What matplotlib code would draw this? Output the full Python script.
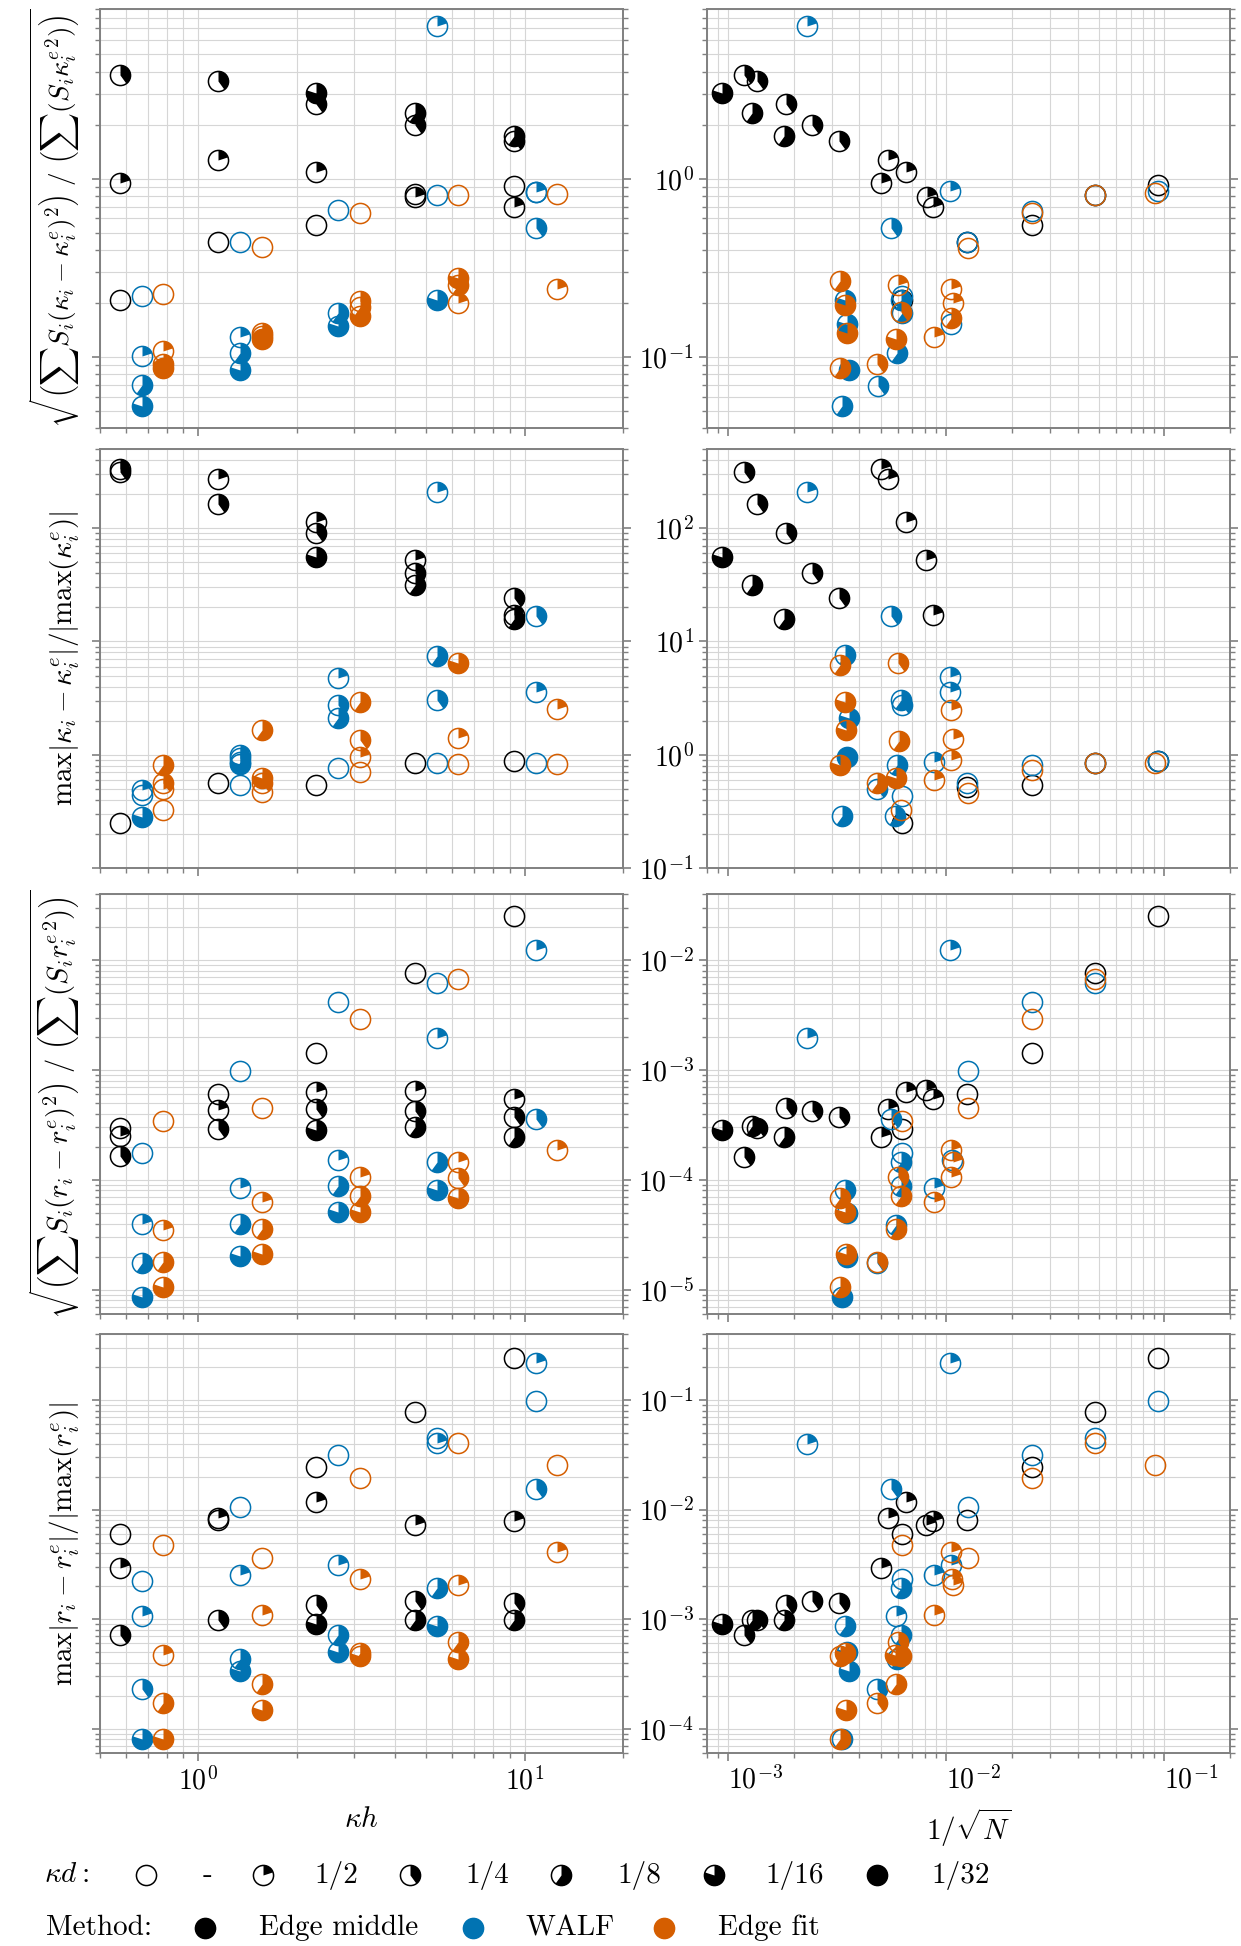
"""
Error of curvature (kappa) and radius (r) against kappa*h and 1/sqrt(N),
for three methods and several boundary refinements kappa*d.
"""
import numpy as np
import matplotlib
matplotlib.use("Agg")
import matplotlib.pyplot as plt
from matplotlib.path import Path
from matplotlib.ticker import LogLocator, NullFormatter

plt.rcParams.update({
    "font.family": "cmr10",
    "mathtext.fontset": "cm",
    "axes.formatter.use_mathtext": True,
    "axes.unicode_minus": False,
})

W, H, DPI = 1241, 1946, 100

COLORS = {"em": "#000000", "walf": "#0173b2", "fit": "#d55e00"}
METHOD_LABELS = {"em": "Edge middle", "walf": "WALF", "fit": "Edge fit"}
KD_LABELS = ["-", "1/2", "1/4", "1/8", "1/16", "1/32"]   # fill = k/5

# kappa*h of the five meshes (left column), method shift for readability
KH = [0.575, 1.15, 2.3, 4.6, 9.26]
KH_SHIFT = {"em": 1.0, "walf": 1.167, "fit": 1.36}

# ---- row 1: rms error of kappa -------------------------------------------
# left: (mesh index, value, kd index)
L1_EM = [(0, 3.85, 2), (0, 0.95, 1), (0, 0.21, 0),
         (1, 3.53, 2), (1, 1.28, 1), (1, 0.44, 0),
         (2, 3.03, 4), (2, 2.64, 2), (2, 1.10, 1), (2, 0.555, 0),
         (3, 2.34, 3), (3, 2.02, 2), (3, 0.79, 1), (3, 0.82, 0),
         (4, 1.75, 3), (4, 1.64, 2), (4, 0.70, 1), (4, 0.91, 0)]
L1_WALF = [(0, 0.22, 0), (0, 0.101, 1), (0, 0.070, 3), (0, 0.053, 4),
           (1, 0.44, 0), (1, 0.129, 1), (1, 0.106, 3), (1, 0.085, 4),
           (2, 0.667, 0), (2, 0.177, 3), (2, 0.149, 4),
           (3, 0.81, 0), (3, 0.21, 4), (3, 7.2, 1),
           (4, 0.85, 0), (4, 0.85, 1), (4, 0.53, 2)]
L1_FIT = [(0, 0.225, 0), (0, 0.108, 1), (0, 0.091, 4), (0, 0.087, 5),
          (1, 0.416, 0), (1, 0.137, 3), (1, 0.131, 4), (1, 0.126, 5),
          (2, 0.644, 0), (2, 0.206, 2), (2, 0.19, 3), (2, 0.17, 4),
          (3, 0.817, 0), (3, 0.279, 4), (3, 0.255, 3), (3, 0.20, 1),
          (4, 0.82, 0), (4, 0.24, 1)]
# right: (1/sqrt(N), value, kd index)
R1_EM = [(9.4e-4, 3.03, 4), (1.18e-3, 3.85, 2), (1.36e-3, 3.53, 2),
         (1.28e-3, 2.34, 3), (1.85e-3, 2.64, 2), (1.80e-3, 1.75, 3),
         (2.43e-3, 2.02, 2), (3.23e-3, 1.64, 2), (5.43e-3, 1.28, 1),
         (5.01e-3, 0.95, 1), (6.55e-3, 1.09, 1), (8.17e-3, 0.79, 1),
         (8.67e-3, 0.70, 1), (6.27e-3, 0.21, 0), (0.01245, 0.44, 0),
         (0.0247, 0.555, 0), (0.0483, 0.817, 0), (0.0933, 0.93, 0)]
R1_WALF = [(2.3e-3, 7.2, 1), (3.32e-3, 0.053, 3), (3.57e-3, 0.085, 5),
           (3.5e-3, 0.153, 4), (3.43e-3, 0.21, 4), (4.85e-3, 0.069, 2),
           (5.58e-3, 0.53, 2), (5.94e-3, 0.106, 3), (6.2e-3, 0.21, 3),
           (6.27e-3, 0.22, 0), (6.3e-3, 0.177, 3), (0.0104, 0.853, 1),
           (0.0105, 0.153, 1), (0.01245, 0.44, 0), (0.0247, 0.66, 0),
           (0.0483, 0.817, 0), (0.0933, 0.853, 0)]
R1_FIT = [(3.27e-3, 0.269, 3), (3.43e-3, 0.197, 4), (3.5e-3, 0.137, 4),
          (3.27e-3, 0.087, 3), (4.81e-3, 0.092, 2), (6.0e-3, 0.255, 1),
          (6.2e-3, 0.179, 2), (5.9e-3, 0.127, 4), (0.0105, 0.24, 1),
          (0.0107, 0.20, 1), (0.0105, 0.166, 3), (8.8e-3, 0.13, 1),
          (0.0126, 0.41, 0), (0.0246, 0.645, 0), (0.0483, 0.817, 0),
          (0.0907, 0.835, 0)]

# ---- row 2: max error of kappa -------------------------------------------
L2_EM = [(0, 336, 1), (0, 314, 2), (0, 0.248, 0),
         (1, 274, 1), (1, 163, 2), (1, 0.56, 0),
         (2, 114, 1), (2, 90, 2), (2, 55.8, 4), (2, 0.54, 0),
         (3, 52, 1), (3, 39.8, 2), (3, 31.4, 3), (3, 0.85, 0),
         (4, 24.4, 2), (4, 17.1, 1), (4, 15.7, 3), (4, 0.885, 0)]
L2_WALF = [(0, 0.49, 1), (0, 0.44, 0), (0, 0.284, 4),
           (1, 1.0, 1), (1, 0.93, 2), (1, 0.87, 3), (1, 0.82, 4), (1, 0.54, 0),
           (2, 4.8, 1), (2, 2.74, 2), (2, 2.09, 3), (2, 0.76, 0),
           (3, 209, 1), (3, 7.4, 3), (3, 3.04, 2), (3, 0.84, 0),
           (4, 16.7, 2), (4, 3.6, 1), (4, 0.84, 0)]
L2_FIT = [(0, 0.81, 3), (0, 0.56, 2), (0, 0.50, 1), (0, 0.325, 0),
          (1, 1.65, 3), (1, 0.62, 4), (1, 0.56, 2), (1, 0.47, 0),
          (2, 2.94, 3), (2, 1.35, 2), (2, 0.96, 1), (2, 0.71, 0),
          (3, 6.4, 4), (3, 1.41, 1), (3, 0.83, 0),
          (4, 2.51, 1), (4, 0.83, 0)]
R2_EM = [(9.4e-4, 55.8, 4), (1.18e-3, 314, 2), (1.36e-3, 163, 2),
         (1.28e-3, 31.4, 3), (1.85e-3, 90, 2), (1.80e-3, 15.7, 3),
         (2.43e-3, 39.8, 2), (3.23e-3, 24.4, 2), (5.01e-3, 336, 1),
         (5.43e-3, 274, 1), (6.55e-3, 114, 1), (8.1e-3, 52, 1),
         (8.67e-3, 17.1, 1), (6.27e-3, 0.248, 0), (0.01245, 0.52, 0),
         (0.0247, 0.54, 0), (0.0483, 0.85, 0), (0.0933, 0.885, 0)]
R2_WALF = [(2.3e-3, 209, 1), (5.58e-3, 16.8, 2), (3.43e-3, 7.6, 3),
           (3.57e-3, 2.09, 4), (3.5e-3, 0.96, 5), (3.32e-3, 0.288, 3),
           (6.2e-3, 3.04, 3), (6.27e-3, 2.74, 2), (5.96e-3, 0.81, 3),
           (4.8e-3, 0.50, 2), (6.3e-3, 0.43, 0), (5.8e-3, 0.29, 3),
           (0.0104, 4.9, 1), (0.0104, 3.6, 1), (8.8e-3, 0.87, 1),
           (0.01245, 0.56, 0), (0.0246, 0.81, 0), (0.0483, 0.85, 0),
           (0.0933, 0.885, 0)]
R2_FIT = [(3.27e-3, 6.2, 3), (3.43e-3, 2.94, 4), (3.46e-3, 1.65, 4),
          (3.27e-3, 0.81, 4), (6.0e-3, 6.5, 2), (6.1e-3, 1.32, 3),
          (4.8e-3, 0.56, 3), (5.9e-3, 0.62, 4), (6.2e-3, 0.325, 0),
          (0.0105, 2.48, 1), (0.0107, 1.39, 1), (0.0105, 0.90, 1),
          (8.8e-3, 0.60, 1), (0.0126, 0.46, 0), (0.0246, 0.73, 0),
          (0.0483, 0.84, 0), (0.0907, 0.84, 0)]

# ---- row 3: rms error of r -----------------------------------------------
L3_EM = [(0, 2.94e-4, 0), (0, 2.48e-4, 1), (0, 1.63e-4, 2),
         (1, 6.0e-4, 0), (1, 4.32e-4, 1), (1, 2.88e-4, 2),
         (2, 1.42e-3, 0), (2, 6.3e-4, 1), (2, 4.4e-4, 2), (2, 2.85e-4, 4),
         (3, 7.7e-3, 0), (3, 6.5e-4, 1), (3, 4.27e-4, 2), (3, 3.05e-4, 3),
         (4, 0.0254, 0), (4, 5.46e-4, 1), (4, 3.72e-4, 2), (4, 2.44e-4, 3)]
L3_WALF = [(0, 1.77e-4, 0), (0, 3.96e-5, 1), (0, 1.74e-5, 3), (0, 8.6e-6, 4),
           (1, 9.7e-4, 0), (1, 8.4e-5, 1), (1, 3.96e-5, 3), (1, 2.02e-5, 4),
           (2, 4.2e-3, 0), (2, 1.52e-4, 1), (2, 8.8e-5, 3), (2, 5.13e-5, 4),
           (3, 6.17e-3, 0), (3, 1.97e-3, 1), (3, 1.44e-4, 3), (3, 8.1e-5, 4),
           (4, 0.0123, 1), (4, 3.56e-4, 2)]
L3_FIT = [(0, 3.46e-4, 0), (0, 3.49e-5, 1), (0, 1.8e-5, 3), (0, 1.05e-5, 4),
          (1, 4.55e-4, 0), (1, 6.3e-5, 1), (1, 3.6e-5, 3), (1, 2.1e-5, 4),
          (2, 2.94e-3, 0), (2, 1.05e-4, 1), (2, 7.1e-5, 3), (2, 5.1e-5, 4),
          (3, 6.76e-3, 0), (3, 1.44e-4, 1), (3, 1.03e-4, 2), (3, 6.8e-5, 4),
          (4, 1.85e-4, 1)]
R3_EM = [(9.4e-4, 2.85e-4, 4), (1.18e-3, 1.6e-4, 2), (1.28e-3, 3.1e-4, 3),
         (1.36e-3, 2.95e-4, 2), (1.85e-3, 4.5e-4, 2), (1.80e-3, 2.44e-4, 3),
         (2.43e-3, 4.27e-4, 2), (3.23e-3, 3.71e-4, 2), (5.01e-3, 2.44e-4, 1),
         (5.43e-3, 4.4e-4, 1), (6.55e-3, 6.3e-4, 1), (8.1e-3, 6.6e-4, 1),
         (8.67e-3, 5.46e-4, 1), (6.27e-3, 2.9e-4, 0), (0.01245, 6.0e-4, 0),
         (0.0247, 1.42e-3, 0), (0.0483, 7.7e-3, 0), (0.0933, 0.0254, 0)]
R3_WALF = [(2.3e-3, 1.97e-3, 1), (0.0104, 0.0123, 1), (0.0126, 9.7e-4, 0),
           (0.0246, 4.2e-3, 0), (0.0483, 6.2e-3, 0), (5.58e-3, 3.56e-4, 2),
           (6.27e-3, 1.77e-4, 0), (6.2e-3, 1.44e-4, 3), (6.2e-3, 8.8e-5, 3),
           (5.9e-3, 3.9e-5, 3), (3.43e-3, 8.1e-5, 3), (3.5e-3, 5.0e-5, 4),
           (3.5e-3, 2.0e-5, 4), (3.32e-3, 8.6e-6, 4), (4.8e-3, 1.74e-5, 2),
           (8.8e-3, 8.4e-5, 1), (0.0106, 1.52e-4, 1)]
R3_FIT = [(3.27e-3, 6.8e-5, 3), (3.43e-3, 5.1e-5, 4), (3.46e-3, 2.1e-5, 4),
          (3.27e-3, 1.06e-5, 3), (4.8e-3, 1.78e-5, 2), (5.9e-3, 3.6e-5, 3),
          (6.0e-3, 1.05e-4, 2), (6.2e-3, 7.1e-5, 3), (6.27e-3, 3.46e-4, 0),
          (8.8e-3, 6.3e-5, 1), (0.0105, 1.85e-4, 1), (0.0107, 1.44e-4, 1),
          (0.0105, 1.05e-4, 1), (0.0126, 4.55e-4, 0), (0.0246, 2.94e-3, 0),
          (0.0483, 6.76e-3, 0)]

# ---- row 4: max error of r -----------------------------------------------
L4_EM = [(0, 6.0e-3, 0), (0, 2.94e-3, 1), (0, 7.2e-4, 2),
         (1, 8.4e-3, 1), (1, 8.1e-3, 0), (1, 9.9e-4, 2),
         (2, 0.0243, 0), (2, 0.0117, 1), (2, 1.34e-3, 2), (2, 9.1e-4, 4),
         (3, 0.0778, 0), (3, 7.3e-3, 1), (3, 1.46e-3, 2), (3, 9.9e-4, 3),
         (4, 0.241, 0), (4, 7.8e-3, 1), (4, 1.41e-3, 2), (4, 9.9e-4, 3)]
L4_WALF = [(0, 2.22e-3, 0), (0, 1.06e-3, 1), (0, 2.29e-4, 2), (0, 8.1e-5, 4),
           (1, 0.0105, 0), (1, 2.52e-3, 1), (1, 4.29e-4, 3), (1, 3.36e-4, 4),
           (2, 0.0313, 0), (2, 3.15e-3, 1), (2, 7.2e-4, 3), (2, 5.04e-4, 4),
           (3, 0.045, 0), (3, 0.0406, 1), (3, 1.93e-3, 3), (3, 8.6e-4, 4),
           (4, 0.217, 1), (4, 0.0986, 0), (4, 0.0155, 2)]
L4_FIT = [(0, 4.73e-3, 0), (0, 4.67e-4, 1), (0, 1.73e-4, 3), (0, 8.1e-5, 4),
          (1, 3.62e-3, 0), (1, 1.1e-3, 1), (1, 2.54e-4, 3), (1, 1.48e-4, 4),
          (2, 0.0194, 0), (2, 2.3e-3, 1), (2, 4.93e-4, 3), (2, 4.6e-4, 4),
          (3, 0.0406, 0), (3, 2.04e-3, 1), (3, 6.17e-4, 3), (3, 4.29e-4, 4),
          (4, 0.0257, 0), (4, 4.11e-3, 1)]
R4_EM = [(9.4e-4, 9.1e-4, 4), (1.18e-3, 7.2e-4, 2), (1.28e-3, 9.9e-4, 3),
         (1.36e-3, 9.9e-4, 2), (1.85e-3, 1.34e-3, 2), (1.80e-3, 9.9e-4, 3),
         (2.43e-3, 1.46e-3, 2), (3.23e-3, 1.41e-3, 2), (5.01e-3, 2.94e-3, 1),
         (5.43e-3, 8.4e-3, 1), (6.55e-3, 0.0117, 1), (8.1e-3, 7.3e-3, 1),
         (8.67e-3, 7.8e-3, 1), (6.27e-3, 6.0e-3, 0), (0.01245, 8.1e-3, 0),
         (0.0247, 0.0243, 0), (0.0483, 0.0778, 0), (0.0933, 0.241, 0)]
R4_WALF = [(2.3e-3, 0.0397, 1), (5.58e-3, 0.0155, 2), (3.43e-3, 8.7e-4, 3),
           (3.5e-3, 5.0e-4, 4), (3.57e-3, 3.36e-4, 4), (3.32e-3, 8.1e-5, 3),
           (4.8e-3, 2.29e-4, 2), (5.9e-3, 1.06e-3, 1), (6.2e-3, 7.2e-4, 3),
           (5.96e-3, 4.3e-4, 3), (6.27e-3, 2.3e-3, 0), (6.2e-3, 1.93e-3, 3),
           (8.8e-3, 2.52e-3, 1), (0.0105, 3.15e-3, 1), (0.0126, 0.0105, 0),
           (0.0246, 0.0313, 0), (0.0483, 0.045, 0), (0.0933, 0.0986, 0),
           (0.0104, 0.217, 1)]
R4_FIT = [(3.27e-3, 4.6e-4, 3), (3.43e-3, 4.9e-4, 4), (3.46e-3, 1.48e-4, 4),
          (3.27e-3, 8.1e-5, 3), (4.8e-3, 1.73e-4, 2), (5.9e-3, 2.54e-4, 3),
          (6.0e-3, 6.2e-4, 2), (6.2e-3, 4.6e-4, 3), (5.8e-3, 4.7e-4, 4),
          (6.27e-3, 4.7e-3, 0), (8.8e-3, 1.1e-3, 1), (0.0105, 4.1e-3, 1),
          (0.0106, 2.3e-3, 1), (0.0107, 2.04e-3, 1), (0.0126, 3.6e-3, 0),
          (0.0246, 0.0194, 0), (0.0483, 0.0406, 0), (0.0907, 0.0257, 0)]

ROWS = [
    ({"em": L1_EM, "walf": L1_WALF, "fit": L1_FIT},
     {"em": R1_EM, "walf": R1_WALF, "fit": R1_FIT}, (0.04, 9),
     r"$\sqrt{\left(\sum S_i(\kappa_i-\kappa_i^e)^2\right)\ /\ \left(\sum(S_i{\kappa_i^e}^2)\right)}$",
     19.5),
    ({"em": L2_EM, "walf": L2_WALF, "fit": L2_FIT},
     {"em": R2_EM, "walf": R2_WALF, "fit": R2_FIT}, (0.1, 500),
     r"$\max|\kappa_i-\kappa_i^e|/|\max(\kappa_i^e)|$", 21),
    ({"em": L3_EM, "walf": L3_WALF, "fit": L3_FIT},
     {"em": R3_EM, "walf": R3_WALF, "fit": R3_FIT}, (6e-6, 0.04),
     r"$\sqrt{\left(\sum S_i(r_i-r_i^e)^2\right)\ /\ \left(\sum(S_i{r_i^e}^2)\right)}$",
     20.5),
    ({"em": L4_EM, "walf": L4_WALF, "fit": L4_FIT},
     {"em": R4_EM, "walf": R4_WALF, "fit": R4_FIT}, (6e-5, 0.4),
     r"$\max|r_i-r_i^e|/|\max(r_i^e)|$", 21),
]

MS = 14.5
MEW = 1.1
GRAY = "#808080"


def pie_path(k):
    """Wedge filled clockwise from 12 o'clock, k/5 of the disc."""
    frac = k / 5
    t = np.linspace(np.pi / 2, np.pi / 2 - 2 * np.pi * frac, 120)
    verts = np.vstack([[0, 0], np.column_stack([np.cos(t), np.sin(t)]), [0, 0]])
    return Path(verts, closed=True)


def pie_points(ax, xs, ys, ks, color, **kw):
    for x, y, k in zip(xs, ys, ks):
        if k == 5:
            ax.plot([x], [y], ls="none", marker="o", ms=MS, mfc=color,
                    mec=color, mew=MEW, **kw)
            continue
        if k > 0:
            ax.plot([x], [y], ls="none", marker=pie_path(k), ms=MS,
                    mfc=color, mec="none", mew=0, **kw)
        ax.plot([x], [y], ls="none", marker="o", ms=MS, mfc="none",
                mec=color, mew=MEW, **kw)


def style_axis(ax):
    ax.set_xscale("log")
    ax.set_yscale("log")
    ax.grid(True, which="both", color="#d6d6d6", lw=0.8)
    ax.set_axisbelow(True)
    for sp in ax.spines.values():
        sp.set_color(GRAY)
        sp.set_linewidth(1.4)
    ax.tick_params(which="both", direction="out", color=GRAY,
                   left=True, right=True, top=False, bottom=True,
                   labelsize=20)
    ax.tick_params(which="major", length=6, width=1.2)
    ax.tick_params(which="minor", length=3.5, width=1.0)
    ax.yaxis.set_minor_locator(LogLocator(base=10, subs=np.arange(2, 10)))
    ax.yaxis.set_minor_formatter(NullFormatter())
    ax.xaxis.set_minor_locator(LogLocator(base=10, subs=np.arange(2, 10)))
    ax.xaxis.set_minor_formatter(NullFormatter())


fig = plt.figure(figsize=(W / DPI, H / DPI), dpi=DPI)

rows_px = [(9, 428), (449, 868), (894, 1314), (1334, 1753)]
cols_px = [(100, 623), (707, 1230)]

for r, (left, right, ylim, ylabel, ylabel_size) in enumerate(ROWS):
    y0, y1 = rows_px[r]
    axes = []
    for c, (x0, x1) in enumerate(cols_px):
        ax = fig.add_axes([x0 / W, 1 - y1 / H, (x1 - x0) / W, (y1 - y0) / H])
        style_axis(ax)
        ax.set_ylim(*ylim)
        axes.append(ax)
    axl, axr = axes

    for m in ("em", "walf", "fit"):
        g = [p[0] for p in left[m]]
        xs = [KH[i] * KH_SHIFT[m] for i in g]
        pie_points(axl, xs, [p[1] for p in left[m]], [p[2] for p in left[m]],
                   COLORS[m])
        pie_points(axr, [p[0] for p in right[m]], [p[1] for p in right[m]],
                   [p[2] for p in right[m]], COLORS[m])

    axl.set_xlim(0.5, 20)
    axr.set_xlim(8e-4, 0.2)
    axr.set_xticks([1e-3, 1e-2, 1e-1])
    axl.tick_params(labelleft=False)
    axl.set_ylabel(ylabel, fontsize=ylabel_size, labelpad=6)
    if r < 3:
        axl.tick_params(labelbottom=False)
        axr.tick_params(labelbottom=False)
    else:
        axr.set_xticklabels([r"$10^{-3}$", r"$10^{-2}$", r"$10^{-1}$"],
                            ha="left")
        axl.set_xlabel(r"$\kappa h$", fontsize=21, labelpad=8)
        axr.set_xlabel(r"$1/\sqrt{N}$", fontsize=21, labelpad=8)

# legend rows drawn in pixel space
lg = fig.add_axes([0, 0, 1, 1])
lg.set_xlim(0, W)
lg.set_ylim(H, 0)
lg.axis("off")
lg.patch.set_alpha(0)

kd_y, m_y = 1875, 1928
lg.text(44, kd_y, r"$\kappa d:$", fontsize=21, va="center", ha="left")
kd_marks = [146, 263, 410, 561, 714, 877]
kd_texts = [203, 314, 465, 617, 765, 931]
for k, (mx, tx) in enumerate(zip(kd_marks, kd_texts)):
    pie_points(lg, [mx], [kd_y], [k], "#000000", clip_on=False)
    lg.text(tx, kd_y, KD_LABELS[k], fontsize=21, va="center", ha="left")

lg.text(46, m_y, "Method:", fontsize=21, va="center", ha="left")
for m, mx, tx in zip(("em", "walf", "fit"), (205, 473, 664), (259, 525, 718)):
    pie_points(lg, [mx], [m_y], [5], COLORS[m], clip_on=False)
    lg.text(tx, m_y, METHOD_LABELS[m], fontsize=21, va="center", ha="left")

fig.savefig("out.png", dpi=DPI)
